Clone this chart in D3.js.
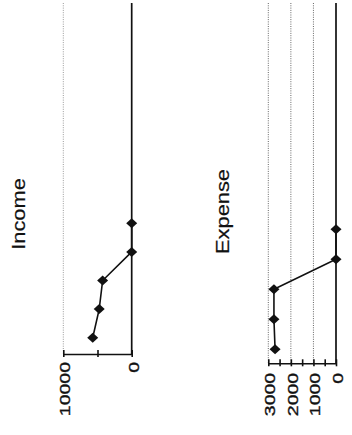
<!DOCTYPE html>
<html>
<head>
<meta charset="utf-8">
<script src="https://cdn.jsdelivr.net/npm/d3@7"></script>
<style>
  html, body { margin: 0; padding: 0; background: #fff; }
  svg { display: block; }
  text { font-family: "Liberation Sans", Arial, Helvetica, sans-serif; fill: #111; }
</style>
</head>
<body>
<svg id="chart" width="352" height="435"></svg>
<script>
// ---- data ----
const months = ["Jan","Feb","Mar","Apr","May","Jun","Jul","Aug","Sep","Oct","Nov","Dec"];
const incomeMonths = ["Jan","Feb","Mar","Apr","May"];
const incomeValues = [5700, 4750, 4250, 0, 0];
const expenseMonths = ["Jan","Feb","Mar","Apr","May"];
const expenseValues = [2700, 2750, 2750, 0, 0];
const incomeMajorTicks = [0, 10000];
const incomeMinorTicks = [5000];
const expenseMajorTicks = [0, 1000, 2000, 3000];
const expenseMinorTicks = [500, 1500, 2500];

const svg = d3.select("#chart");

// custom diamond marker
const diamond = {
  draw(ctx, size) {
    const w = 5.5, h = 5;
    ctx.moveTo(0, -h); ctx.lineTo(w, 0); ctx.lineTo(0, h); ctx.lineTo(-w, 0); ctx.closePath();
  }
};

function panel(cfg) {
  const g = svg.append("g");
  const x = d3.scaleLinear().domain(cfg.domain).range(cfg.xRange);
  const y = d3.scalePoint().domain(months).range(cfg.yRange);

  // gridlines
  const gridVals = cfg.major.filter(v => v !== 0);
  g.selectAll("line.grid").data(gridVals).join("line")
    .attr("class", "grid")
    .attr("x1", d => x(d)).attr("x2", d => x(d))
    .attr("y1", cfg.top).attr("y2", cfg.axisY)
    .attr("stroke", cfg.gridColor).attr("stroke-width", 1)
    .attr("stroke-dasharray", "1,1.3");
  // zero line
  g.append("line")
    .attr("x1", x(0)).attr("x2", x(0))
    .attr("y1", cfg.top).attr("y2", cfg.axisY)
    .attr("stroke", "#111").attr("stroke-width", 1.7);

  // value axis
  const allTicks = cfg.major.concat(cfg.minor).sort((a, b) => a - b);
  const axis = d3.axisBottom(x)
    .tickValues(allTicks)
    .tickSizeInner(3)
    .tickSizeOuter(0)
    .tickFormat(d => cfg.major.includes(d) ? d3.format("d")(d) : "");
  const ag = g.append("g").attr("transform", `translate(0,${cfg.axisY})`).call(axis);
  ag.select(".domain").attr("stroke", "#111").attr("stroke-width", 1.6);
  ag.selectAll(".tick line").attr("y1", -4).attr("y2", 3).attr("stroke", "#111").attr("stroke-width", 1.6);
  ag.selectAll(".tick text")
    .attr("x", null).attr("y", null).attr("dy", null)
    .attr("text-anchor", "end")
    .attr("font-size", 15)
    .attr("font-family", "Liberation Sans, Arial, sans-serif")
    .attr("fill", "#111")
    .attr("stroke", "#111").attr("stroke-width", 0.35)
    .attr("transform", `translate(6.5,${cfg.labelGap}) rotate(-90) scale(1.3,1)`);

  // line
  const pts = cfg.cats.map((c, i) => [x(cfg.values[i]), y(c)]);
  g.append("path")
    .attr("d", d3.line()(pts))
    .attr("fill", "none").attr("stroke", "#111").attr("stroke-width", 1.6);
  g.selectAll("path.mk").data(pts).join("path")
    .attr("class", "mk")
    .attr("transform", d => `translate(${d[0]},${d[1]})`)
    .attr("d", d3.symbol().type(diamond)())
    .attr("fill", "#111");

  // title
  g.append("text")
    .attr("transform", `translate(${cfg.titleX},${cfg.titleY}) rotate(-90) scale(1.18,1)`)
    .attr("text-anchor", "middle")
    .attr("font-size", 18.5)
    .attr("stroke", "#111").attr("stroke-width", 0.2)
    .text(cfg.title);
}

panel({
  title: "Income", titleX: 25, titleY: 214,
  domain: [0, 10000], xRange: [131.7, 63.3],
  yRange: [337.7, 337.7 - 11 * 28.6],
  axisY: 354, top: 3, labelGap: 8,
  major: incomeMajorTicks, minor: incomeMinorTicks,
  gridColor: "#9a9a9a",
  cats: incomeMonths, values: incomeValues
});

panel({
  title: "Expense", titleX: 229, titleY: 211.5,
  domain: [0, 3000], xRange: [336, 268.3],
  yRange: [349.3, 349.3 - 11 * 30],
  axisY: 363.3, top: 3, labelGap: 9.5,
  major: expenseMajorTicks, minor: expenseMinorTicks,
  gridColor: "#666",
  cats: expenseMonths, values: expenseValues
});
</script>
</body>
</html>
